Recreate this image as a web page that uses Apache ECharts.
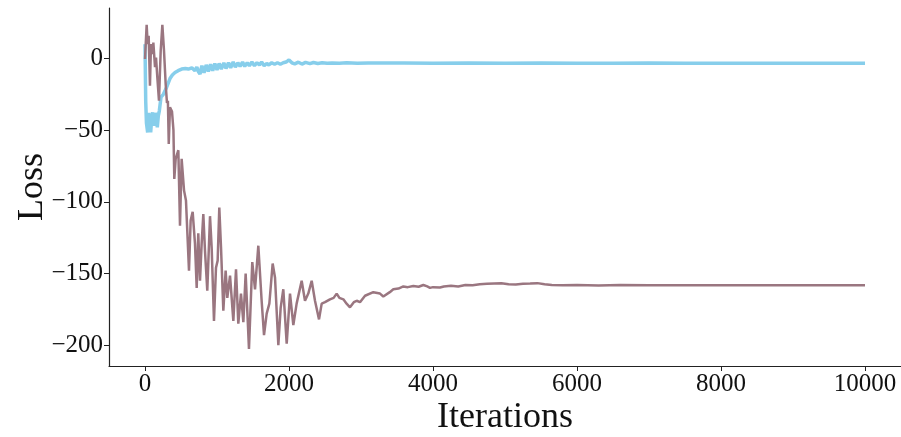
<!DOCTYPE html>
<html>
<head>
<meta charset="utf-8">
<script src="https://cdn.jsdelivr.net/npm/echarts@6/dist/echarts.min.js"></script>
<style>
  html, body { margin: 0; padding: 0; background: #fff; }
  #chart { width: 901px; height: 437px; }
</style>
</head>
<body>
<div id="chart"></div>
<script>
// Training loss curves for two runs over 10000 iterations.
const xTicks = [0, 2000, 4000, 6000, 8000, 10000];
const yTicks = [-200, -150, -100, -50, 0];

const blueIters = [0, 10, 20, 37, 50, 60, 79, 95, 106, 120, 130, 145, 153, 171, 185, 199, 222, 255, 280, 301,
  347, 380, 417, 460, 509, 560, 602, 650, 694, 720, 745, 764, 790, 820, 850, 880, 910, 940, 970, 1000,
  1030, 1060, 1095, 1125, 1160, 1190, 1225, 1255, 1290, 1320, 1355, 1385, 1420, 1450, 1485, 1520, 1555,
  1590, 1620, 1655, 1690, 1720, 1760, 1800, 1840, 1880, 1920, 1960, 2000, 2014, 2040, 2080, 2130, 2180,
  2230, 2290, 2340, 2400, 2460, 2530, 2600, 2700, 2800, 2950, 3100, 3300, 3600, 4000, 4500, 5000, 5500,
  6000, 6500, 7000, 7500, 8000, 8500, 9000, 9500, 10000];
const blueLoss = [10, -30, -45, -51.6, -38, -41, -51.6, -40, -37.6, -47, -45.8, -38, -40, -48, -40, -36.5, -27, -25, -24, -20,
  -14, -11.5, -9.8, -8.5, -7.4, -7, -7.4, -6.5, -8.6, -6, -9.5, -10.9, -5, -10, -4.5, -9, -4, -8.5, -3.5, -8,
  -3.5, -7.5, -3, -7, -3, -6.5, -2.5, -6, -3, -5.5, -2.5, -5.5, -3, -5, -2.5, -5, -3,
  -4.5, -2.5, -5, -3.5, -4.5, -3, -4, -3, -4, -3, -2.5, -1, -0.2, -3, -3.8, -2.6, -3.9, -2.7,
  -3.6, -2.8, -3.5, -3.0, -3.4, -3.1, -3.3, -3.0, -3.3, -3.1, -3.2, -3.2, -3.3, -3.2, -3.3, -3.2,
  -3.3, -3.3, -3.2, -3.3, -3.3, -3.3, -3.3, -3.3, -3.3];

const mauveIters = [0, 23, 37, 51, 69, 83, 106, 116, 139, 153, 171, 194, 218, 241, 264, 287, 305, 318, 330, 347,
  375, 395, 407, 426, 463, 486, 509, 542, 569, 611, 634, 662, 694, 718, 740, 764, 787, 810, 833, 865,
  903, 926, 958, 986, 1009, 1032, 1056, 1088, 1120, 1143, 1181, 1227, 1264, 1296, 1333, 1366, 1398, 1444,
  1490, 1528, 1574, 1620, 1653, 1690, 1727, 1773, 1806, 1852, 1884, 1921, 1968, 2014, 2060, 2106, 2176,
  2222, 2268, 2315, 2361, 2417, 2454, 2500, 2569, 2620, 2662, 2700, 2755, 2800, 2847, 2900, 2940, 2986,
  3056, 3171, 3264, 3310, 3400, 3449, 3520, 3588, 3650, 3727, 3800, 3866, 3920, 3958, 4000, 4097, 4150,
  4250, 4350, 4450, 4550, 4650, 4750, 4850, 4950, 5050, 5150, 5250, 5350, 5450, 5550, 5650, 5800, 6000,
  6300, 6600, 7000, 7500, 8000, 8500, 9000, 9500, 10000];
const mauveLoss = [-0.4, 23.5, 10, 15.8, -19, 10, 3, 11, -6, 0.7, -13, -29.5, 5.4, 23.5, 5.4, -17.8, -31, -29.5, -59.7, -34,
  -37, -50, -84, -70, -64, -116.7, -70, -92, -99, -148, -113, -107, -129, -160, -122, -155, -129, -108.5, -134, -162,
  -110, -132, -183, -146, -141, -104, -132, -176, -148, -167, -151.5, -183, -147, -185, -164, -184, -150, -202.6,
  -142, -161, -130.6, -169, -193, -178, -171, -143, -153, -200, -174, -161, -199, -164, -186, -171, -155,
  -169, -164, -155, -169, -182, -171, -170, -168, -167, -164, -167, -168, -171, -173.6, -170, -169, -170,
  -165.5, -163, -164, -166, -163, -161, -160.5, -159, -159.5, -158.7, -159.2, -158, -159, -160, -159.5, -159.7, -159,
  -158.5, -159, -158, -158.2, -157.5, -157.2, -157, -156.8, -157.5, -157.6, -157.2, -157, -156.7, -157.5, -158, -158.2, -158,
  -158.4, -158, -158.2, -158.1, -158.2, -158.1, -158.2, -158.2, -158.2];

const pairs = (xs, ys) => xs.map((x, i) => [x, ys[i]]);
const minus = v => String(v).replace('-', '\u2212');

const FONT = 'Liberation Serif';
const chart = echarts.init(document.getElementById('chart'), null, { renderer: 'canvas' });

chart.setOption({
  animation: false,
  backgroundColor: '#ffffff',
  grid: { left: 109, right: 0, top: 8, bottom: 71, containLabel: false, outerBoundsMode: 'none' },
  xAxis: {
    type: 'value',
    min: -500,
    max: 10500,
    name: 'Iterations',
    nameLocation: 'middle',
    nameGap: 34,
    nameMoveOverlap: false,
    nameTextStyle: { fontFamily: FONT, fontSize: 36, color: '#111' },
    axisLine: { show: true, onZero: false, lineStyle: { color: '#222', width: 1.2 } },
    axisTick: { show: true, inside: false, length: 5, customValues: xTicks, lineStyle: { color: '#222', width: 1 } },
    axisLabel: { customValues: xTicks, margin: 6, fontFamily: FONT, fontSize: 25, color: '#111', formatter: v => minus(v) },
    splitLine: { show: false }
  },
  yAxis: {
    type: 'value',
    min: -214.5,
    max: 35.2,
    name: 'Loss',
    nameLocation: 'middle',
    nameGap: 58,
    nameMoveOverlap: false,
    nameRotate: 90,
    nameTextStyle: { fontFamily: FONT, fontSize: 36, color: '#111' },
    axisLine: { show: true, onZero: false, lineStyle: { color: '#222', width: 1.2 } },
    axisTick: { show: true, inside: false, length: 5, customValues: yTicks, lineStyle: { color: '#222', width: 1 } },
    axisLabel: { customValues: yTicks, margin: 6, fontFamily: FONT, fontSize: 25, color: '#111', formatter: v => minus(v) },
    splitLine: { show: false }
  },
  series: [
    {
      name: 'Run A',
      type: 'line',
      data: pairs(blueIters, blueLoss),
      showSymbol: false,
      lineStyle: { color: '#87ceeb', width: 3.5 },
      z: 2
    },
    {
      name: 'Run B',
      type: 'line',
      data: pairs(mauveIters, mauveLoss),
      showSymbol: false,
      lineStyle: { color: '#9a7680', width: 2.5 },
      z: 3
    }
  ]
});
</script>
</body>
</html>
